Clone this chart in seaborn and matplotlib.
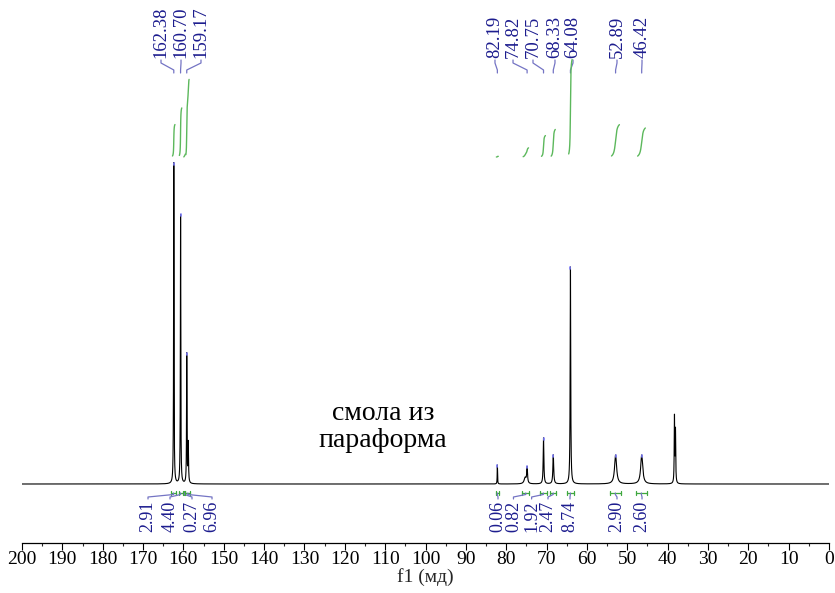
import numpy as np
import pandas as pd
import matplotlib
matplotlib.use("Agg")
import matplotlib.pyplot as plt
import seaborn as sns

# --- данные ---
# пики: положение (м.д.), высота (в пикселях над базовой линией), полуширина (м.д.)
peak_ppm = [162.38, 160.70, 159.17, 158.80, 82.19, 75.30, 74.82, 70.75,
            68.33, 64.08, 52.89, 46.42, 38.30, 38.05]
peak_height = [321, 269, 129, 40, 19, 6, 16, 46, 29, 217, 29, 29, 66, 52]
peak_hwhm = [0.06, 0.06, 0.06, 0.08, 0.05, 0.3, 0.12, 0.10, 0.12, 0.08,
             0.30, 0.30, 0.07, 0.07]

# подписи пиков сверху
label_ppm = [162.38, 160.70, 159.17, 82.19, 74.82, 70.75, 68.33, 64.08, 52.89, 46.42]

# интегралы: начало, конец (м.д.), значение
int_start = [163.0, 161.2, 159.9, 159.5, 82.6, 76.0, 71.6, 69.1, 64.9, 54.3, 47.8]
int_end = [161.9, 160.2, 159.5, 158.3, 81.8, 74.3, 70.0, 67.6, 63.3, 51.6, 45.2]
int_value = [2.91, 4.40, 0.27, 6.96, 0.06, 0.82, 1.92, 2.47, 8.74, 2.90, 2.60]

xticks = list(range(200, -1, -10))

# --- раскладка (в пикселях картинки: ось y = 543 - y_пикс) ---
base_y = 59          # базовая линия спектра
int_base = 386       # начало кривых интегралов
int_scale = 11.5     # пикселей на единицу интеграла
top_label_x = [165.55, 160.59, 155.64, 82.78, 78.31, 73.36, 67.91, 63.44, 52.54, 46.34]
bot_label_x = [168.77, 163.32, 157.87, 152.91, 82.03, 78.20, 73.70, 69.64, 64.19, 52.54, 46.34]

navy = "#1c1c8e"
conn = "#7474c4"
green = "#5cb85c"

ppm = np.linspace(200, 0, 40001)
spec = np.full_like(ppm, base_y, dtype=float)
for p, h, g in zip(peak_ppm, peak_height, peak_hwhm):
    spec += h * g**2 / ((ppm - p) ** 2 + g**2)
df = pd.DataFrame({"ppm": ppm, "I": spec})

sns.set_theme(style="white")
plt.rcParams["font.family"] = ["Liberation Serif", "DejaVu Serif"]

fig = plt.figure(figsize=(8.35, 5.93), dpi=100)
ax = fig.add_axes([22 / 835, 50 / 593, 807 / 835, 543 / 593])

sns.lineplot(data=df, x="ppm", y="I", ax=ax, color="black", linewidth=0.8,
             estimator=None, sort=False)

# метки вершин пиков
for p in label_ppm:
    i = np.argmin(np.abs(ppm - p))
    ax.plot([p, p], [spec[i] - 2, spec[i]], color="#8080ff", lw=1.2)

# подписи пиков и соединительные линии
for p, lx in zip(label_ppm, top_label_x):
    ax.text(lx, 485, f"{p:.2f}", rotation=90, ha="center", va="bottom",
            color=navy, fontsize=13.5)
    ax.plot([lx, lx, p, p], [483, 480, 473, 470], color=conn, lw=0.9)

# интегралы
for a, b, v, lx in zip(int_start, int_end, int_value, bot_label_x):
    m = (ppm <= a) & (ppm >= b)
    seg = np.cumsum(spec[m] - base_y)
    frac = seg / seg[-1]
    keep = (frac > 0.03) & (frac < 0.97)
    ax.plot(ppm[m][keep], int_base + frac[keep] * v * int_scale, color=green, lw=1.0)
    # скобка области интегрирования
    ax.plot([a, b], [50, 50], color="#3fa83f", lw=0.9)
    ax.plot([a, a], [48, 52], color="#3fa83f", lw=0.9)
    ax.plot([b, b], [48, 52], color="#3fa83f", lw=0.9)
    c = (a + b) / 2
    ax.plot([lx, lx, c, c], [44, 46, 48.5, 50], color=conn, lw=0.9)
    ax.text(lx, 42, f"{v:.2f}", rotation=90, ha="center", va="top",
            color=navy, fontsize=13)

ax.text(110.5, 116, "смола из\nпараформа", ha="center", va="center",
        fontsize=20, color="black", linespacing=1.15)

ax.set_xlim(200, 0)
ax.set_ylim(0, 543)
ax.set_xticks(xticks)
ax.set_xticks(list(range(195, 0, -10)), minor=True)
ax.set_xticklabels([str(t) for t in xticks], fontsize=14)
ax.set_yticks([])
ax.set_xlabel("f1 (мд)", fontsize=14, labelpad=0)
ax.set_ylabel("")
for s in ["left", "right", "top"]:
    ax.spines[s].set_visible(False)
ax.spines["bottom"].set_color("black")
ax.spines["bottom"].set_linewidth(0.9)
ax.tick_params(axis="x", which="major", direction="out", length=5, width=0.8,
               pad=1, colors="black", bottom=True)
ax.tick_params(axis="x", which="minor", direction="out", length=2.5, width=0.8,
               bottom=True)
ax.set_facecolor("white")
ax.patch.set_alpha(0)

fig.savefig("out.png", dpi=100, facecolor="white")
